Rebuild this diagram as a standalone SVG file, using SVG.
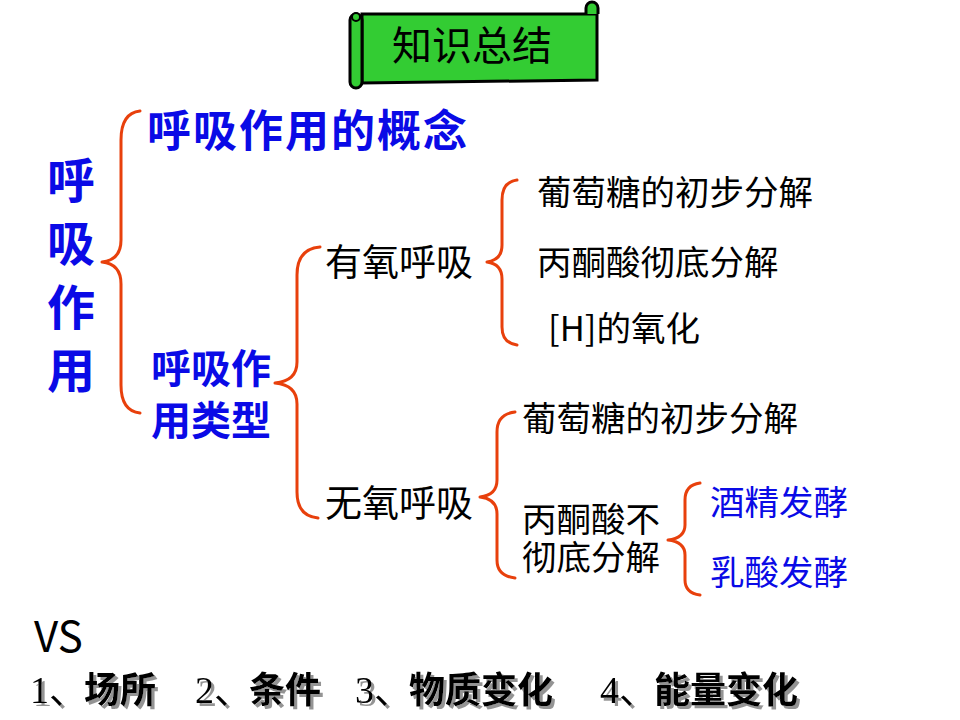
<svg xmlns="http://www.w3.org/2000/svg" width="960" height="720" viewBox="0 0 960 720">
<style>
.br{fill:none;stroke:#E8400C;stroke-width:3;stroke-linecap:round;stroke-linejoin:round}
.t{font-family:"Noto Sans CJK SC","Liberation Sans",sans-serif;fill:#000}
.b{font-family:"Noto Sans CJK SC","Liberation Sans",sans-serif;fill:#0A0AE6;font-weight:bold}
.bl{font-family:"Noto Sans CJK SC","Liberation Sans",sans-serif;fill:#0A0AE6}
.bt{font-family:"Noto Sans CJK SC","Liberation Serif",sans-serif;font-weight:bold;font-size:36px}
.num{font-family:"Liberation Serif","Noto Sans CJK SC",serif;font-size:38px}
</style>
<defs>
<filter id="sh" x="-5%" y="-20%" width="110%" height="150%">
<feDropShadow dx="3" dy="3" stdDeviation="0.6" flood-color="#888" flood-opacity="0.9"/>
</filter>
</defs>
<rect width="960" height="720" fill="#fff"/>
<g id="banner">
<path d="M362,14 L597,14 L597,80 L362,83 Z" fill="#33CC33" stroke="#000" stroke-width="3"/>
<path d="M586,14 L586,8 A6,6 0 1 1 598,8 L598,14" fill="#33CC33" stroke="#000" stroke-width="3"/>
<rect x="350" y="14" width="12" height="74" rx="6" fill="#33CC33" stroke="#000" stroke-width="3"/>
<circle cx="356" cy="17" r="4" fill="#33CC33" stroke="#000" stroke-width="2"/>
<text class="t" x="392" y="60" font-size="40">知识总结</text>
</g>
<g id="connectors">
<path class="br" d="M140,111 Q121,113 121,140 L121,240 Q121,260 102,262 Q121,264 121,284 L121,385 Q121,411 140,413"/>
<path class="br" d="M320,247 Q297,249 297,275 L297,362 Q297,381 275,383 Q297,385 297,404 L297,492 Q297,516 318,518"/>
<path class="br" d="M517,180 Q502,182 502,200 L502,245 Q502,260 487,262 Q502,264 502,279 L502,327 Q502,343 517,345"/>
<path class="br" d="M515,412 Q497,414 497,432 L497,480 Q497,495 480,497 Q497,499 497,514 L497,560 Q497,576 515,578"/>
<path class="br" d="M700,483 Q685,485 685,500 L685,525 Q685,538 668,540 Q685,542 685,555 L685,580 Q685,593 700,595"/>
</g>
<g id="root">
<text class="b" x="71" y="198" font-size="48" text-anchor="middle">呼</text>
<text class="b" x="71" y="261" font-size="48" text-anchor="middle">吸</text>
<text class="b" x="71" y="325" font-size="48" text-anchor="middle">作</text>
<text class="b" x="71" y="388" font-size="48" text-anchor="middle">用</text>
</g>
<g id="concept"><text class="b" x="147" y="147" font-size="44" letter-spacing="2">呼吸作用的概念</text></g>
<g id="types">
<text class="b" x="151" y="383" font-size="40">呼吸作</text>
<text class="b" x="151" y="435" font-size="40">用类型</text>
</g>
<g id="aerobic"><text class="t" x="325" y="276" font-size="37">有氧呼吸</text></g>
<g id="a1"><text class="t" x="537" y="205" font-size="34.5">葡萄糖的初步分解</text></g>
<g id="a2"><text class="t" x="537" y="275" font-size="34.5">丙酮酸彻底分解</text></g>
<g id="a3"><text class="t" x="548" y="341" font-size="34.5">[H]的氧化</text></g>
<g id="anaerobic"><text class="t" x="325" y="517" font-size="37">无氧呼吸</text></g>
<g id="n1"><text class="t" x="522" y="431" font-size="34.5">葡萄糖的初步分解</text></g>
<g id="n2">
<text class="t" x="522" y="532" font-size="34.5">丙酮酸不</text>
<text class="t" x="522" y="570" font-size="34.5">彻底分解</text>
</g>
<g id="alcohol"><text class="bl" x="710" y="515" font-size="34.5">酒精发酵</text></g>
<g id="lactic"><text class="bl" x="710" y="585" font-size="34.5">乳酸发酵</text></g>
<g id="vs"><text class="t" x="34" y="652" font-size="42">VS</text></g>
<g id="compare" fill="#000" filter="url(#sh)">
<text class="num" x="30" y="703">1、</text><text class="bt" x="84" y="703">场所</text>
<text class="num" x="195" y="703">2、</text><text class="bt" x="249" y="703">条件</text>
<text class="num" x="355" y="703">3、</text><text class="bt" x="409" y="703">物质变化</text>
<text class="num" x="600" y="703">4、</text><text class="bt" x="654" y="703">能量变化</text>
</g>
</svg>
